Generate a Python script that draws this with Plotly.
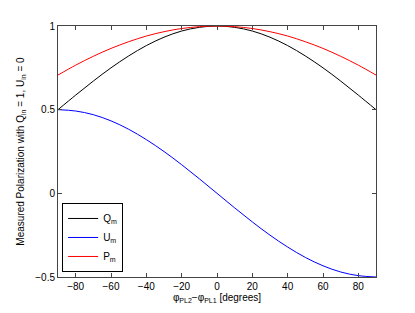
import plotly.graph_objects as go

phi = [-90, -80, -70, -60, -50, -40, -30, -20, -10, 0, 10, 20, 30, 40, 50, 60, 70, 80, 90]
Q_m = [0.50, 0.587, 0.671, 0.75, 0.821, 0.883, 0.933, 0.970, 0.992, 1.00, 0.992, 0.970, 0.933, 0.883, 0.821, 0.75, 0.671, 0.587, 0.50]
U_m = [0.50, 0.492, 0.470, 0.433, 0.383, 0.321, 0.25, 0.171, 0.087, 0.00, -0.087, -0.171, -0.25, -0.321, -0.383, -0.433, -0.470, -0.492, -0.50]
P_m = [0.707, 0.766, 0.819, 0.866, 0.906, 0.940, 0.966, 0.985, 0.996, 1.00, 0.996, 0.985, 0.966, 0.940, 0.906, 0.866, 0.819, 0.766, 0.707]

x_ticks = [-80, -60, -40, -20, 0, 20, 40, 60, 80]
y_ticks = [-0.5, 0, 0.5, 1]
y_tick_labels = ["−0.5", "0", "0.5", "1"]

fig = go.Figure()
fig.add_trace(go.Scatter(x=phi, y=Q_m, mode="lines", name="Q<sub>m</sub>",
                         line=dict(color="#000000", width=1, shape="spline")))
fig.add_trace(go.Scatter(x=phi, y=U_m, mode="lines", name="U<sub>m</sub>",
                         line=dict(color="#0000ff", width=1, shape="spline")))
fig.add_trace(go.Scatter(x=phi, y=P_m, mode="lines", name="P<sub>m</sub>",
                         line=dict(color="#ff0000", width=1, shape="spline")))

axis_common = dict(showline=True, linecolor="#444", linewidth=1, mirror="ticks",
                   ticks="inside", ticklen=4, tickcolor="#444", showgrid=False,
                   zeroline=False, tickfont=dict(size=10, color="#000"))

# page body has an 8px default margin, so the figure is 8px smaller and its
# left/top margins are reduced by 8px to keep the plot area in place
fig.update_layout(
    width=407, height=305,
    margin=dict(l=46, r=39, t=15, b=28),
    paper_bgcolor="white", plot_bgcolor="white",
    font=dict(family="Liberation Sans, Arial, sans-serif", size=10, color="#000"),
    xaxis=dict(range=[-90, 90], tickvals=x_ticks,
               title=dict(text="φ<sub>PL2</sub>−φ<sub>PL1</sub> [degrees]", standoff=2,
                          font=dict(size=10)),
               **axis_common),
    yaxis=dict(range=[-0.5, 1], tickvals=y_ticks, ticktext=y_tick_labels,
               title=dict(text="Measured Polarization with Q<sub>in</sub> = 1, U<sub>in</sub> = 0",
                          standoff=8, font=dict(size=10)),
               **axis_common),
    legend=dict(x=0.013, y=0.02, xanchor="left", yanchor="bottom",
                bordercolor="#000", borderwidth=1, bgcolor="white",
                font=dict(size=10), tracegroupgap=0, itemwidth=30),
    showlegend=True,
)

fig.write_html("out.html")
